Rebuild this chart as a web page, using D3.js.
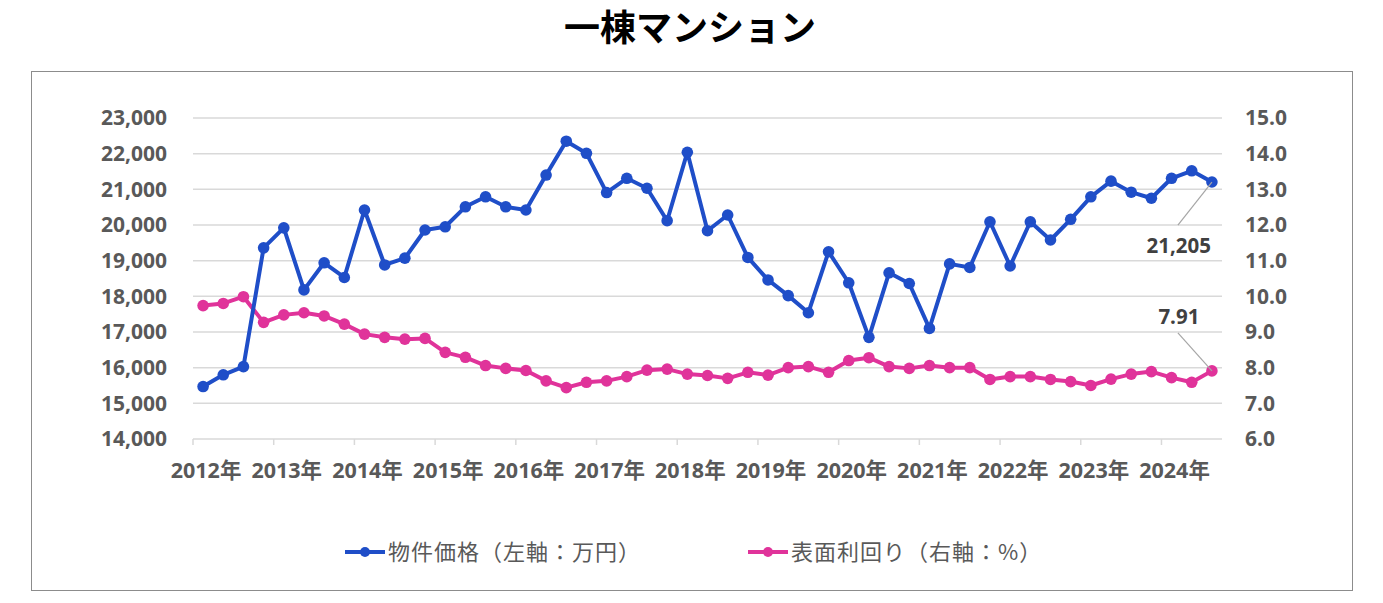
<!DOCTYPE html>
<html><head><meta charset="utf-8">
<script src="https://cdn.jsdelivr.net/npm/d3@7"></script>
<style>
body{margin:0;background:#fff;}
svg{display:block;}
</style>
</head><body>
<svg id="c" width="1383" height="603"></svg>
<script>
// ---- data ----
const years = [2012,2013,2014,2015,2016,2017,2018,2019,2020,2021,2022,2023,2024];
const categories = [];
years.forEach(y => { for (let q = 1; q <= 4; q++) { if (y === 2024 && q > 3) break; categories.push(y + "Q" + q); } });
const yearLabels = years.map(y => y + "年");
const priceValues = [15470,15800,16030,19360,19920,18180,18940,18530,20420,18880,19070,19860,
  19950,20510,20790,20510,20420,21400,22350,22010,20910,21310,21030,20120,22040,19840,20280,
  19090,18460,18020,17540,19250,18380,16850,18660,18360,17100,18910,18810,20090,18850,20090,
  19580,20160,20790,21230,20920,20750,21310,21520,21205];
const yieldValues = [9.74,9.80,9.99,9.27,9.48,9.54,9.45,9.22,8.94,8.85,8.80,8.82,8.43,8.29,8.06,7.98,
  7.92,7.63,7.44,7.59,7.63,7.75,7.93,7.96,7.82,7.78,7.70,7.87,7.79,8.00,8.03,7.87,8.20,8.28,
  8.03,7.98,8.06,8.00,8.00,7.67,7.75,7.75,7.67,7.61,7.50,7.68,7.82,7.89,7.72,7.59,7.91];
const leftTicks = [14000,15000,16000,17000,18000,19000,20000,21000,22000,23000];
const rightTicks = [6,7,8,9,10,11,12,13,14,15];
const title = "一棟マンション";
const seriesNames = ["物件価格（左軸：万円）","表面利回り（右軸：%）"];
const colors = ["#1f4ec8","#e0339a"];

// ---- layout ----
const svg = d3.select("#c");
const L = 193, R = 1222, T = 118, B = 439;
const x = d3.scalePoint().domain(categories).range([L, R]).padding(0.5);
const step = x.step();
const yL = d3.scaleLinear().domain([14000, 23000]).range([B, T]);
const yR = d3.scaleLinear().domain([6, 15]).range([B, T]);
const fontNum = "'Open Sans','Noto Sans CJK JP',sans-serif";
const fontJP = "'Noto Sans CJK JP','Noto Sans',sans-serif";

// border
svg.append("rect").attr("x",31.5).attr("y",71.5).attr("width",1321).attr("height",519)
  .attr("fill","none").attr("stroke","#8c8c8c").attr("stroke-width",1);

// title
svg.append("text").attr("x",690).attr("y",41).attr("text-anchor","middle")
  .attr("font-family",fontJP).attr("font-weight",700).attr("font-size",36).attr("fill","#000")
  .text(title);

// gridlines
svg.append("g").selectAll("line").data(leftTicks.slice(1)).join("line")
  .attr("x1",L).attr("x2",R).attr("y1",d=>yL(d)).attr("y2",d=>yL(d))
  .attr("stroke","#d9d9d9").attr("stroke-width",1.5);

// left axis
const axL = svg.append("g").attr("transform",`translate(${L},0)`)
  .call(d3.axisLeft(yL).tickValues(leftTicks).tickFormat(d3.format(",")).tickSize(0).tickPadding(26));
axL.select(".domain").remove();
axL.selectAll("text").attr("font-family",fontNum).attr("font-weight",700).attr("font-size",21).attr("fill","#595959");

// right axis
const axR = svg.append("g").attr("transform",`translate(${R},0)`)
  .call(d3.axisRight(yR).tickValues(rightTicks).tickFormat(d3.format(".1f")).tickSize(0).tickPadding(23));
axR.select(".domain").remove();
axR.selectAll("text").attr("font-family",fontNum).attr("font-weight",700).attr("font-size",21).attr("fill","#595959");

// x axis line + ticks
svg.append("line").attr("x1",L).attr("x2",R).attr("y1",B).attr("y2",B).attr("stroke","#d9d9d9").attr("stroke-width",1.5);
const tickCats = categories.filter((c,i)=> i % 4 === 0);
svg.append("g").selectAll("line").data(tickCats).join("line")
  .attr("x1",d=>x(d)-step/2).attr("x2",d=>x(d)-step/2).attr("y1",B).attr("y2",B+6)
  .attr("stroke","#d9d9d9").attr("stroke-width",1.5);
svg.append("g").selectAll("text").data(tickCats).join("text")
  .attr("x",d=>x(d)+3).attr("y",478).attr("text-anchor","middle")
  .attr("font-family",fontNum).attr("font-weight",700).attr("font-size",21.5).attr("fill","#595959")
  .text((d,i)=>yearLabels[i]);

// series
function drawSeries(vals, yS, col){
  const line = d3.line().x((d,i)=>x(categories[i])).y(d=>yS(d));
  svg.append("path").datum(vals).attr("d",line).attr("fill","none")
    .attr("stroke",col).attr("stroke-width",4).attr("stroke-linejoin","round");
  svg.append("g").selectAll("circle").data(vals).join("circle")
    .attr("cx",(d,i)=>x(categories[i])).attr("cy",d=>yS(d)).attr("r",5.8).attr("fill",col);
}
drawSeries(yieldValues, yR, colors[1]);
drawSeries(priceValues, yL, colors[0]);

// annotations
const lastCat = categories[categories.length-1];
const lx = x(lastCat);
const lp = priceValues[priceValues.length-1], ly = yieldValues[yieldValues.length-1];
svg.append("line").attr("x1",lx-34).attr("y1",yL(lp)+43).attr("x2",lx).attr("y2",yL(lp))
  .attr("stroke","#a6a6a6").attr("stroke-width",1.2);
svg.append("text").attr("x",lx-1).attr("y",yL(lp)+71).attr("text-anchor","end")
  .attr("font-family",fontNum).attr("font-weight",700).attr("font-size",20.5).attr("fill","#404040")
  .text(d3.format(",")(lp));
svg.append("line").attr("x1",lx-34).attr("y1",yR(ly)-38).attr("x2",lx).attr("y2",yR(ly))
  .attr("stroke","#a6a6a6").attr("stroke-width",1.2);
svg.append("text").attr("x",lx-33).attr("y",yR(ly)-47).attr("text-anchor","middle")
  .attr("font-family",fontNum).attr("font-weight",700).attr("font-size",20.5).attr("fill","#404040")
  .text(d3.format(".2f")(ly));

// legend
const legX = [345, 748];
seriesNames.forEach((n,i)=>{
  const g = svg.append("g").attr("transform",`translate(${legX[i]},552)`);
  g.append("line").attr("x1",0).attr("x2",40).attr("y1",0).attr("y2",0).attr("stroke",colors[i]).attr("stroke-width",4);
  g.append("circle").attr("cx",20).attr("cy",0).attr("r",5).attr("fill",colors[i]);
  g.append("text").attr("x",43).attr("y",8).attr("font-family",fontJP).attr("font-size",22)
    .attr("fill","#595959").attr("letter-spacing",1).text(n);
});
</script>
</body></html>
